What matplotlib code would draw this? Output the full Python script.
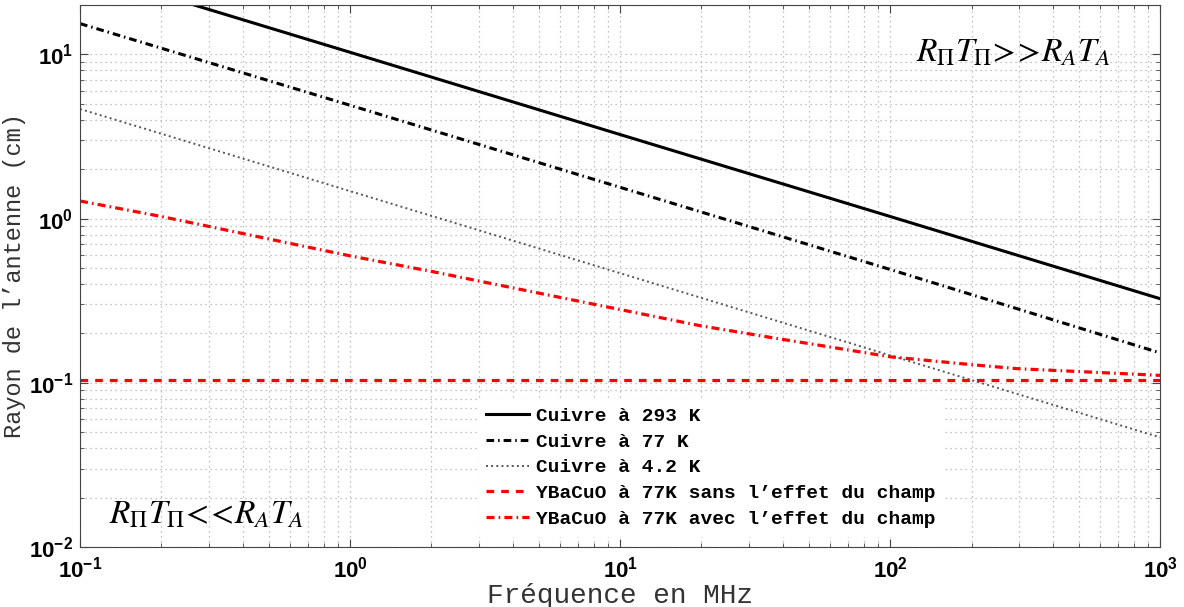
import matplotlib
matplotlib.use("Agg")
import matplotlib.pyplot as plt
from matplotlib.ticker import LogLocator, NullFormatter

# valeurs (rayon en cm, fréquence en MHz)
freq_cu = [0.1, 1, 10, 100, 1000]
r_cu293 = [32.5, 10.3, 3.25, 1.03, 0.325]
r_cu77 = [15.4, 4.9, 1.55, 0.49, 0.152]
r_cu4 = [4.65, 1.47, 0.465, 0.147, 0.0465]

freq_ybco = [0.1, 0.2, 0.65, 1, 2, 3.5, 7.1, 20, 39, 55, 100, 200, 294, 1000]
r_ybco_champ = [1.28, 1.03, 0.687, 0.593, 0.477, 0.396, 0.313, 0.222,
                0.185, 0.169, 0.144, 0.129, 0.122, 0.111]
freq_sans = [0.1, 1000]
r_ybco_sans = [0.104, 0.104]

labels = ["Cuivre à 293 K", "Cuivre à 77 K", "Cuivre à 4.2 K",
          "YBaCuO à 77K sans l’effet du champ",
          "YBaCuO à 77K avec l’effet du champ"]

plt.rcParams["font.family"] = "Liberation Sans"

fig = plt.figure(figsize=(11.84, 6.07), dpi=100)
ax = fig.add_axes([0.0676, 0.0988, 0.9124, 0.893])

ax.plot(freq_cu, r_cu293, color="black", lw=2.2, label=labels[0])
ax.plot(freq_cu, r_cu77, color="black", lw=2.2, dashes=(2.5, 1.3, 0.5, 1.3),
        label=labels[1])
ax.plot(freq_cu, r_cu4, color="#555555", lw=1.4, linestyle=":", label=labels[2])
ax.plot(freq_sans, r_ybco_sans, color="red", lw=2.3, dashes=(2.4, 2.2),
        label=labels[3])
ax.plot(freq_ybco, r_ybco_champ, color="red", lw=2.3,
        dashes=(2.5, 1.3, 0.5, 1.3), label=labels[4])

ax.set_xscale("log")
ax.set_yscale("log")
ax.set_xlim(0.1, 1000)
ax.set_ylim(0.01, 20)

for a in (ax.xaxis, ax.yaxis):
    a.set_major_locator(LogLocator(base=10, numticks=10))
    a.set_minor_locator(LogLocator(base=10, subs=range(2, 10), numticks=50))
    a.set_minor_formatter(NullFormatter())

ax.grid(True, which="both", color="#b0b0b0", linestyle=(0, (1, 3)), lw=0.9)
ax.tick_params(which="both", direction="in", top=True, right=True,
               color="#444444", labelsize=16)
ax.tick_params(which="major", length=6)
ax.tick_params(which="minor", length=3)
ax.tick_params(axis="x", pad=7)
ax.tick_params(axis="y", pad=5)
for lab in ax.get_xticklabels() + ax.get_yticklabels():
    lab.set_fontweight("bold")
for s in ax.spines.values():
    s.set_color("#444444")

ax.set_xlabel("Fréquence en MHz", family="Liberation Mono", fontsize=20,
              color="#333333", labelpad=0)
ax.set_ylabel("Rayon de l’antenne (cm)", family="Liberation Mono",
              fontsize=17, color="#333333", labelpad=2)

ax.text(0.864, 0.911, r"$R_{\Pi}T_{\Pi}\!>\!\!>\!R_{A}T_{A}$",
        transform=ax.transAxes, fontsize=24,
        math_fontfamily="stix", ha="center", va="center")
ax.text(0.117, 0.059, r"$R_{\Pi}T_{\Pi}\!<\!\!<\!R_{A}T_{A}$",
        transform=ax.transAxes, fontsize=24,
        math_fontfamily="stix", ha="center", va="center")

leg = ax.legend(loc="lower left", bbox_to_anchor=(0.36, 0.003),
                prop={"family": "Liberation Mono", "weight": "bold", "size": 14},
                handlelength=2.2, handletextpad=0.35, labelspacing=0.42,
                borderpad=0.4, frameon=True, fancybox=False, framealpha=1)
leg.get_frame().set_edgecolor("white")

fig.savefig("out.png", dpi=100)
